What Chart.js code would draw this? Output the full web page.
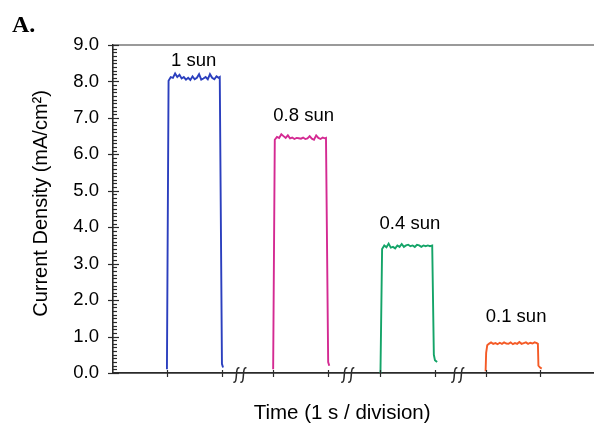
<!DOCTYPE html>
<html>
<head>
<meta charset="utf-8">
<script src="https://cdn.jsdelivr.net/npm/chart.js@4/dist/chart.umd.min.js"></script>
<style>
  html, body { margin: 0; padding: 0; background: #fff; }
  canvas { display: block; }
</style>
</head>
<body>
<canvas id="chart" width="594" height="427"></canvas>
<script>
// Photocurrent pulses, time axis in seconds (1 s / division), y in mA/cm2
const blueX = [0.99, 1.02, 1.06, 1.10, 1.14, 1.18, 1.22, 1.26, 1.30, 1.34, 1.38, 1.42, 1.46, 1.50, 1.54, 1.58, 1.62, 1.66, 1.70, 1.74, 1.78, 1.82, 1.86, 1.90, 1.94, 1.96, 2.00, 2.02]
const blueY = [0.1, 8.02, 8.12, 8.10, 8.22, 8.12, 8.18, 8.08, 8.12, 8.05, 8.10, 8.04, 8.14, 8.06, 8.10, 8.20, 8.05, 8.08, 8.12, 8.06, 8.20, 8.10, 8.06, 8.14, 8.10, 8.12, 0.25, 0.15]

const pinkX = [2.94, 2.97, 3.01, 3.05, 3.09, 3.13, 3.17, 3.21, 3.25, 3.29, 3.33, 3.37, 3.41, 3.45, 3.49, 3.53, 3.57, 3.61, 3.65, 3.69, 3.73, 3.77, 3.81, 3.85, 3.89, 3.91, 3.95, 3.97]
const pinkY = [0.1, 6.40, 6.48, 6.45, 6.55, 6.50, 6.45, 6.52, 6.44, 6.46, 6.42, 6.45, 6.44, 6.43, 6.46, 6.42, 6.44, 6.50, 6.43, 6.40, 6.52, 6.45, 6.42, 6.46, 6.44, 6.45, 0.30, 0.20]

const greenX = [4.91, 4.94, 4.98, 5.02, 5.06, 5.10, 5.14, 5.18, 5.22, 5.26, 5.30, 5.34, 5.38, 5.42, 5.46, 5.50, 5.54, 5.58, 5.62, 5.66, 5.70, 5.74, 5.78, 5.82, 5.86, 5.89, 5.91, 5.95]
const greenY = [0.0, 3.40, 3.50, 3.45, 3.55, 3.44, 3.46, 3.42, 3.50, 3.46, 3.54, 3.46, 3.50, 3.52, 3.48, 3.50, 3.46, 3.52, 3.50, 3.46, 3.50, 3.48, 3.50, 3.48, 3.50, 0.50, 0.35, 0.30]

const orangeX = [6.84, 6.85, 6.87, 6.90, 6.94, 6.98, 7.02, 7.06, 7.10, 7.14, 7.18, 7.22, 7.26, 7.30, 7.34, 7.38, 7.42, 7.46, 7.50, 7.54, 7.58, 7.62, 7.66, 7.70, 7.74, 7.78, 7.80, 7.81, 7.84, 7.87]
const orangeY = [0.05, 0.55, 0.76, 0.80, 0.84, 0.80, 0.82, 0.79, 0.83, 0.80, 0.84, 0.81, 0.80, 0.84, 0.79, 0.82, 0.80, 0.85, 0.80, 0.82, 0.84, 0.80, 0.83, 0.81, 0.84, 0.82, 0.80, 0.20, 0.15, 0.12]

// labels above each pulse
const sunLabels = ['1 sun', '0.8 sun', '0.4 sun', '0.1 sun']
const sunLabelX = [1.48, 3.50, 5.45, 7.40]
const sunLabelY = [8.56, 7.05, 4.10, 1.55]

// division ticks on the time axis and axis break positions
const timeTicks = [0.99, 2.00, 2.94, 3.95, 4.91, 5.92, 6.84, 7.83]
const timeBreaks = [2.33, 4.31, 6.33]

const FONT = '"Liberation Sans", Arial, Helvetica, sans-serif'
const AXIS = '#2a2a2a'

const toPoints = (xs, ys) => xs.map((x, i) => ({ x, y: ys[i] }))

const line = (data, color) => ({
  data,
  borderColor: color,
  borderWidth: 1.9,
  pointRadius: 0,
  tension: 0,
  fill: false
})

// draws minor/major ticks, axis breaks, pulse labels and the panel letter
const decorations = {
  id: 'decorations',
  afterDraw(chart) {
    const { ctx, chartArea, scales: { x, y } } = chart
    ctx.save()
    ctx.strokeStyle = AXIS
    ctx.lineWidth = 1.2

    // y ticks: majors cross the axis, minors sit inside
    const ax = chartArea.left
    for (let i = 0; i <= 90; i++) {
      const py = Math.round(y.getPixelForValue(i / 10)) + 0.5
      ctx.beginPath()
      if (i % 10 === 0) {
        ctx.moveTo(ax - 5, py)
        ctx.lineTo(ax + 6, py)
      } else {
        ctx.moveTo(ax, py)
        ctx.lineTo(ax + 4, py)
      }
      ctx.stroke()
    }

    // time ticks
    const by = chartArea.bottom
    timeTicks.forEach(t => {
      const px = Math.round(x.getPixelForValue(t)) + 0.5
      ctx.beginPath()
      ctx.moveTo(px, by - 3)
      ctx.lineTo(px, by + 4)
      ctx.stroke()
    })

    // axis breaks
    ctx.lineWidth = 1.5
    timeBreaks.forEach(t => {
      const cx = x.getPixelForValue(t)
      ;[-3.5, 3.5].forEach(dx => {
        const c = cx + dx
        ctx.beginPath()
        ctx.moveTo(c - 3, by + 9)
        ctx.bezierCurveTo(c + 2, by + 11, c - 2, by - 7, c + 3, by - 5)
        ctx.stroke()
      })
    })

    // pulse labels
    ctx.fillStyle = '#000'
    ctx.font = '18.5px ' + FONT
    ctx.textAlign = 'center'
    ctx.textBaseline = 'middle'
    sunLabels.forEach((s, i) => {
      ctx.fillText(s, x.getPixelForValue(sunLabelX[i]), y.getPixelForValue(sunLabelY[i]))
    })

    // panel letter
    ctx.font = 'bold 24px "Liberation Serif", "Times New Roman", serif'
    ctx.textAlign = 'left'
    ctx.textBaseline = 'alphabetic'
    ctx.fillText('A.', 12, 32)
    ctx.restore()
  }
}

new Chart(document.getElementById('chart'), {
  type: 'line',
  data: {
    datasets: [
      line(toPoints(blueX, blueY), '#2b3fbe'),
      line(toPoints(pinkX, pinkY), '#d42a92'),
      line(toPoints(greenX, greenY), '#14a468'),
      line(toPoints(orangeX, orangeY), '#f45a26')
    ]
  },
  options: {
    responsive: false,
    animation: false,
    devicePixelRatio: 1,
    layout: { padding: { top: 45, left: 0, right: 0, bottom: 0 } },
    plugins: {
      legend: { display: false },
      tooltip: { enabled: false }
    },
    scales: {
      x: {
        type: 'linear',
        min: 0,
        max: 8.83,
        ticks: { display: false },
        grid: { display: false },
        border: { display: true, color: AXIS, width: 1.8 },
        title: {
          display: true,
          text: 'Time (1 s / division)    ',
          color: '#000',
          font: { family: FONT, size: 20.5 },
          padding: { top: 0, bottom: 1 }
        },
        afterFit(scale) { scale.height = 54 }
      },
      y: {
        min: 0,
        max: 9,
        ticks: {
          stepSize: 1,
          padding: 14,
          color: '#000',
          font: { family: FONT, size: 18.5 },
          callback: v => v.toFixed(1)
        },
        grid: {
          drawTicks: false,
          lineWidth: 2,
          color: c => (c.tick && c.tick.value === 9 ? '#9a9a9a' : 'rgba(0,0,0,0)')
        },
        border: { display: true, color: AXIS, width: 1.6 },
        title: {
          display: true,
          text: '  Current Density (mA/cm²)',
          color: '#000',
          font: { family: FONT, size: 20 },
          padding: { top: 29, bottom: 0 }
        },
        afterFit(scale) { scale.width = 113 }
      }
    }
  },
  plugins: [decorations]
})
</script>
</body>
</html>
